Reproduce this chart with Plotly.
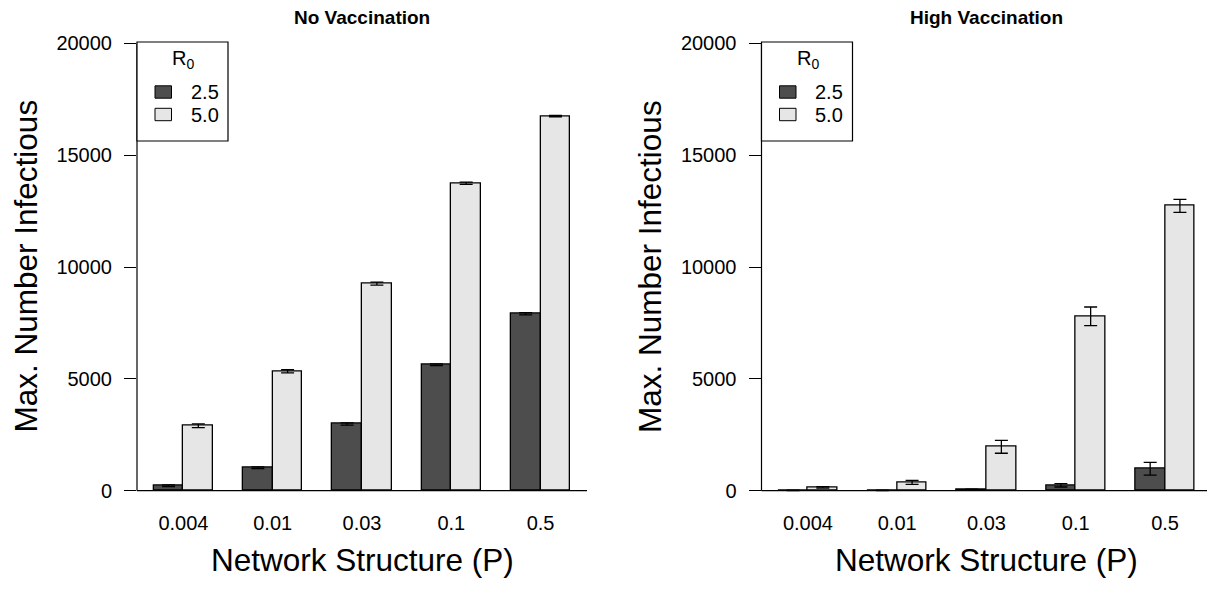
import plotly.graph_objects as go

# ---- data -------------------------------------------------------------
p_labels = ["0.004", "0.01", "0.03", "0.1", "0.5"]
r0_levels = ["2.5", "5.0"]

# No vaccination: mean max. number infectious and standard error
novac_r25 = [225, 1025, 2985, 5635, 7915]
novac_r50 = [2905, 5340, 9260, 13750, 16750]
novac_r25_err = [40, 40, 50, 40, 50]
novac_r50_err = [80, 70, 70, 50, 30]

# High vaccination
hivac_r25 = [15, 20, 55, 240, 985]
hivac_r50 = [150, 375, 1965, 7800, 12735]
hivac_r25_err = [10, 10, 15, 75, 285]
hivac_r50_err = [30, 90, 290, 415, 290]

y_ticks = [0, 5000, 10000, 15000, 20000]

# ---- styling ----------------------------------------------------------
W, H = 1207, 594
FONT = "Liberation Sans, Arial, sans-serif"
DARK = "#4d4d4d"
LIGHT = "#e6e6e6"

# bar layout: each group = 1 unit gap + 2 bars of width 1
centers = [2 + 3 * i for i in range(len(p_labels))]
x_dark = [c - 0.5 for c in centers]
x_light = [c + 0.5 for c in centers]
UNIT_PX = 29.76


def px(x):
    return x / W


def py(y):
    return 1 - y / H


fig = go.Figure()

panels = [
    ("x", "y", novac_r25, novac_r50, novac_r25_err, novac_r50_err),
    ("x2", "y2", hivac_r25, hivac_r50, hivac_r25_err, hivac_r50_err),
]
for xa, ya, d, l, de, le in panels:
    for xs, vals, errs, col in ((x_dark, d, de, DARK), (x_light, l, le, LIGHT)):
        fig.add_trace(go.Bar(
            x=xs, y=vals, width=[1] * len(xs), xaxis=xa, yaxis=ya,
            marker=dict(color=col, line=dict(color="black", width=1.3)),
            error_y=dict(type="data", array=errs, visible=True,
                         color="black", thickness=1.3, width=6.5),
            showlegend=False, hoverinfo="skip",
        ))

# panel placement in pixels
left_x0, left_x1 = 137, 587
right_x0 = 761.5
y_top_px, y_bot_px = 25.6, 508.6
yrange = [-800, 20800]
ydom = [py(y_bot_px), py(y_top_px)]

xaxis_common = dict(
    tickmode="array", tickvals=centers, ticktext=p_labels, ticks="",
    showgrid=False, zeroline=False, showline=False,
    tickfont=dict(family=FONT, size=20, color="black"),
    ticklabelstandoff=0, fixedrange=True,
)
yaxis_common = dict(
    tickmode="array", tickvals=y_ticks, ticktext=[str(v) for v in y_ticks],
    ticks="outside", ticklen=12, tickwidth=1, tickcolor="black",
    showgrid=False, zeroline=False, showline=False,
    tickfont=dict(family=FONT, size=20, color="black"),
    ticklabelstandoff=8, range=yrange, domain=ydom, fixedrange=True,
)

fig.update_layout(
    width=W, height=H,
    margin=dict(l=0, r=0, t=0, b=0, autoexpand=False),
    paper_bgcolor="white", plot_bgcolor="white",
    barmode="overlay", bargap=0,
    font=dict(family=FONT, color="black"),
    xaxis=dict(xaxis_common, domain=[px(left_x0), px(left_x1)],
               range=[0.44, 15.56], anchor="y"),
    yaxis=dict(yaxis_common, anchor="x"),
    xaxis2=dict(xaxis_common, domain=[px(right_x0), 1.0],
                range=[0.44, 0.44 + (W - right_x0) / UNIT_PX], anchor="y2"),
    yaxis2=dict(yaxis_common, anchor="x2"),
)


def label(text, x, y, size, angle=0, xanchor="center"):
    return dict(text=text, xref="paper", yref="paper", x=px(x), y=py(y),
                xanchor=xanchor, yanchor="middle", showarrow=False,
                textangle=angle, font=dict(size=size, family=FONT, color="black"))


shapes = []
annotations = []
for xa, ya, title, x0 in (("x", "y", "No Vaccination", left_x0),
                          ("x2", "y2", "High Vaccination", right_x0)):
    xd = xa + " domain"
    # y axis line spanning the tick range, and baseline at zero
    shapes.append(dict(type="line", xref=xd, yref=ya, x0=0, x1=0, y0=0, y1=20000,
                       line=dict(color="black", width=1.2)))
    shapes.append(dict(type="line", xref=xd, yref=ya, x0=0, x1=1, y0=0, y1=0,
                       line=dict(color="black", width=1.2)))

    pcx = x0 + (left_x1 - left_x0) / 2
    annotations.append(label("<b>" + title + "</b>", pcx, 17, 19))
    annotations.append(label("Network Structure (P)", pcx, 560, 31.5))
    annotations.append(label("Max. Number Infectious", x0 - 112, 266.5, 31.5, angle=-90))

    # legend box
    lx = x0
    shapes.append(dict(type="rect", xref="paper", yref="paper",
                       x0=px(lx), x1=px(lx + 91), y0=py(141), y1=py(42),
                       line=dict(color="black", width=1.2), fillcolor="white"))
    annotations.append(label("R<sub>0</sub>", lx + 46, 60, 20))
    for j, (lab, col) in enumerate(zip(r0_levels, (DARK, LIGHT))):
        cy = 92 + j * 22.5
        shapes.append(dict(type="rect", xref="paper", yref="paper",
                           x0=px(lx + 18), x1=px(lx + 34.5),
                           y0=py(cy + 6.2), y1=py(cy - 6.2),
                           line=dict(color="black", width=1), fillcolor=col))
        annotations.append(label(lab, lx + 52, cy, 20, xanchor="left"))

fig.update_layout(shapes=shapes, annotations=annotations)

fig.write_html("out.html")
